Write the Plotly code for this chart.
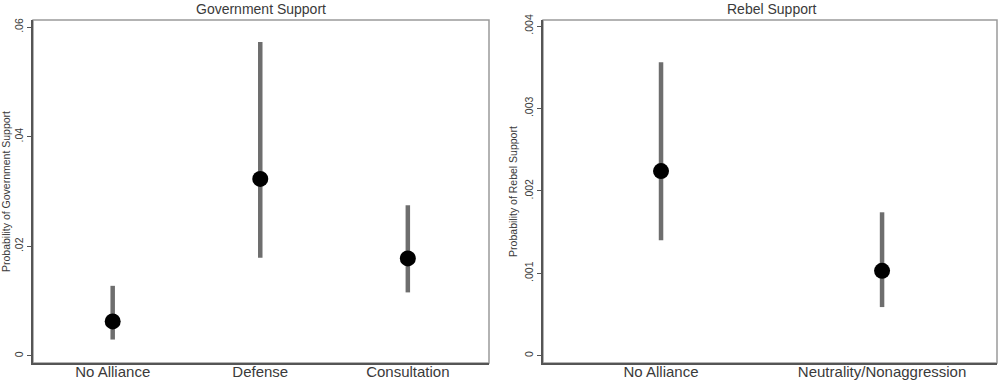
import plotly.graph_objects as go

# Government Support panel
gov_categories = ["No Alliance", "Defense", "Consultation"]
gov_estimate = [0.0063, 0.0323, 0.0178]
gov_lower = [0.0030, 0.0179, 0.0116]
gov_upper = [0.0128, 0.0573, 0.0275]
gov_tickvals = [0, 0.02, 0.04, 0.06]
gov_ticktext = ["0", ".02", ".04", ".06"]

# Rebel Support panel
reb_categories = ["No Alliance", "Neutrality/Nonaggression"]
reb_estimate = [0.00224, 0.00103]
reb_lower = [0.00140, 0.00059]
reb_upper = [0.00356, 0.00174]
reb_tickvals = [0, 0.001, 0.002, 0.003, 0.004]
reb_ticktext = ["0", ".001", ".002", ".003", ".004"]

FONT = "Liberation Sans, Arial, sans-serif"
TXT = "#3a3a3a"
BAR = "#6e6e6e"

fig = go.Figure()


def add_panel(cats, est, lo, hi, xa, ya):
    fig.add_trace(go.Scatter(
        x=cats, y=est, mode="markers", xaxis=xa, yaxis=ya,
        marker=dict(color="black", size=16, line=dict(width=0)),
        error_y=dict(type="data", symmetric=False,
                     array=[h - e for h, e in zip(hi, est)],
                     arrayminus=[e - l for e, l in zip(est, lo)],
                     width=0, thickness=4.5, color=BAR),
        showlegend=False, hoverinfo="skip",
    ))


add_panel(gov_categories, gov_estimate, gov_lower, gov_upper, "x", "y")
add_panel(reb_categories, reb_estimate, reb_lower, reb_upper, "x2", "y2")

ydom = [1 - 363 / 381, 1 - 20 / 381]
common_x = dict(showline=True, linecolor="#555", linewidth=1.5, ticks="",
                showgrid=False, zeroline=False, automargin=False,
                ticklabelstandoff=-6,
                tickfont=dict(family=FONT, size=15, color=TXT))
common_y = dict(showline=True, linecolor="#555", linewidth=1.5, ticks="outside",
                ticklen=4, tickcolor="#555", showgrid=False, zeroline=False,
                automargin=False,
                tickangle=-90, tickfont=dict(family=FONT, size=10.5, color=TXT))

fig.update_layout(
    width=1000, height=381,
    margin=dict(l=0, r=0, t=0, b=0),
    paper_bgcolor="white", plot_bgcolor="white",
    xaxis=dict(domain=[0.033, 0.489], anchor="y", type="category",
               range=[-0.54, 2.55], **common_x),
    yaxis=dict(domain=ydom, anchor="x", range=[-0.00128, 0.0613],
               tickvals=gov_tickvals, ticktext=gov_ticktext,
               title=dict(text="Probability of Government Support", standoff=3,
                          font=dict(family=FONT, size=10.5, color=TXT)),
               **common_y),
    xaxis2=dict(domain=[0.543, 0.997], anchor="y2", type="category",
                range=[-0.534, 1.52], **common_x),
    yaxis2=dict(domain=ydom, anchor="x2", range=[-0.0000886, 0.004073],
                tickvals=reb_tickvals, ticktext=reb_ticktext,
                title=dict(text="Probability of Rebel Support", standoff=3,
                           font=dict(family=FONT, size=10.5, color=TXT)),
                **common_y),
    annotations=[
        dict(text="Government Support", x=0.261, y=1 - 9 / 381, xref="paper", yref="paper",
             showarrow=False, xanchor="center", yanchor="middle",
             font=dict(family=FONT, size=14, color=TXT)),
        dict(text="Rebel Support", x=0.772, y=1 - 9 / 381, xref="paper", yref="paper",
             showarrow=False, xanchor="center", yanchor="middle",
             font=dict(family=FONT, size=14, color=TXT)),
    ],
    shapes=[
        dict(type="rect", xref="paper", yref="paper", x0=0.033, x1=0.489,
             y0=ydom[0], y1=ydom[1], line=dict(color="#9a9a9a", width=1.5), layer="below"),
        dict(type="rect", xref="paper", yref="paper", x0=0.543, x1=0.997,
             y0=ydom[0], y1=ydom[1], line=dict(color="#9a9a9a", width=1.5), layer="below"),
    ],
)

fig.write_html("out.html")
